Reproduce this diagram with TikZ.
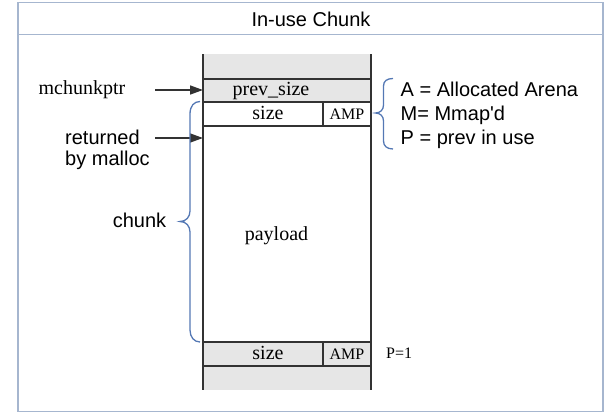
\documentclass[tikz,border=0pt]{standalone}
\usepackage{fontspec}
\setmainfont{Liberation Serif}
\setsansfont{Liberation Sans}
\usetikzlibrary{arrows.meta}
\definecolor{framec}{RGB}{166,182,207}
\definecolor{cellgray}{RGB}{230,230,230}
\definecolor{linec}{RGB}{51,51,51}
\definecolor{bracec}{RGB}{84,120,180}
\tikzset{
  serifbig/.style={font=\fontsize{20}{24}\selectfont\rmfamily, inner sep=0pt, anchor=base},
  serifsmall/.style={font=\fontsize{16}{19}\selectfont\rmfamily, inner sep=0pt, anchor=base},
  sansbig/.style={font=\fontsize{20}{24}\selectfont\sffamily, inner sep=0pt, anchor=base},
  framestyle/.style={draw=framec, line width=1.3pt},
  celledge/.style={draw=linec, line width=2pt},
  ptrarrow/.style={draw=linec, line width=1.5pt, -{Triangle[length=13pt,width=9pt]}},
  bracestyle/.style={draw=bracec, line width=1.3pt}
}
\begin{document}
\begin{tikzpicture}[x=1pt,y=-1pt]
\useasboundingbox (0,0) rectangle (607,415);
% frame
\draw[framestyle] (18,2.5) rectangle (603,411.5);
\draw[framestyle] (18,34.5) -- (603,34.5);
\node[sansbig] (title) at (311,26.7) {In-use Chunk};
% column fills
\fill[cellgray] (203,54) rectangle (371,102);
\fill[cellgray] (203,342) rectangle (371,390);
% column lines
\draw[celledge] (203,54) -- (203,390);
\draw[celledge] (371,54) -- (371,390);
\foreach \yy in {78.5,102,126,342,366} \draw[celledge] (203,\yy) -- (371,\yy);
\draw[celledge] (323,102) -- (323,126);
\draw[celledge] (323,342) -- (323,366);
% cell texts
\node[serifbig] (prevsize) at (271,95.7) {prev\_size};
\node[serifbig] (size1) at (268,119) {size};
\node[serifsmall] (amp1) at (347,119) {AMP};
\node[serifbig] (payload) at (276.5,240) {payload};
\node[serifbig] (size2) at (268,359.5) {size};
\node[serifsmall] (amp2) at (347,359.5) {AMP};
\node[serifsmall, anchor=base west] (pone) at (386,358) {P=1};
% left labels and arrows
\node[serifbig] (mchunkptr) at (82,94.3) {mchunkptr};
\node[sansbig, anchor=base west] (ret1) at (65,144) {returned};
\node[sansbig, anchor=base west] (ret2) at (65,165.7) {by malloc};
\node[sansbig] (chunk) at (139.5,227) {chunk};
\coordinate (mcpstart) at (155,90);
\coordinate (mcpend) at (203,90);
\coordinate (retstart) at (155,138);
\coordinate (retend) at (203,138);
\draw[ptrarrow] (mcpstart) -- (mcpend);
\draw[ptrarrow] (retstart) -- (retend);
% chunk brace
\draw[bracestyle] (200,101.5) .. controls (194,101.5) and (190,106) .. (190,114)
  -- (190,211) .. controls (190,217) and (186,221.5) .. (180,221.5)
  .. controls (186,221.5) and (190,226) .. (190,232)
  -- (190,330) .. controls (190,337) and (194,342) .. (200,342);
% flags brace
\draw[bracestyle] (393,78.5) .. controls (387,78.5) and (383.5,81) .. (383.5,86)
  -- (383.5,105) .. controls (383.5,110) and (380,113) .. (375.5,113)
  .. controls (380,113) and (383.5,116) .. (383.5,121)
  -- (383.5,141) .. controls (383.5,146) and (387,149) .. (393,149);
\node[sansbig, anchor=base west] (flagA) at (400.5,96) {A = Allocated Arena};
\node[sansbig, anchor=base west] (flagM) at (400.5,120) {M= Mmap\textquotesingle d};
\node[sansbig, anchor=base west] (flagP) at (400.5,144) {P = prev in use};
\end{tikzpicture}
\end{document}
